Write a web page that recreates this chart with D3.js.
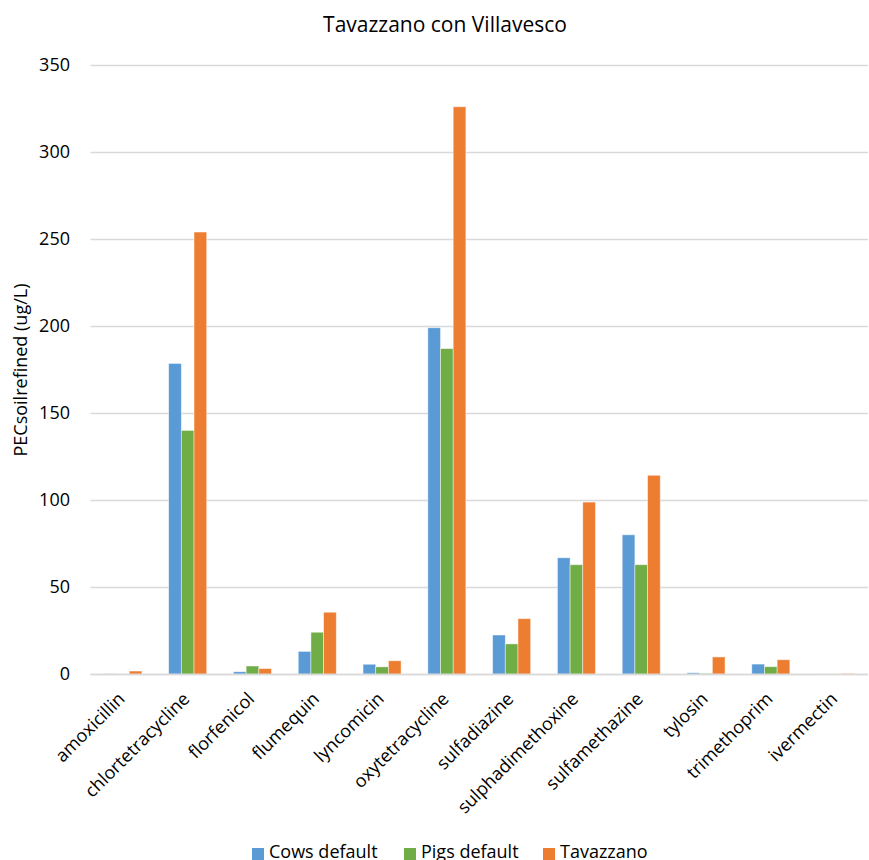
<!DOCTYPE html>
<html>
<head>
<meta charset="utf-8">
<script src="https://cdn.jsdelivr.net/npm/d3@7"></script>
<style>
  html, body { margin: 0; padding: 0; background: #fff; }
  svg { display: block; font-family: "Open Sans", "Noto Sans", sans-serif; }
</style>
</head>
<body>
<svg id="chart" width="869" height="860"></svg>
<script>
// Antibiotic substances on the x axis
const categories = ["amoxicillin", "chlortetracycline", "florfenicol", "flumequin", "lyncomicin",
  "oxytetracycline", "sulfadiazine", "sulphadimethoxine", "sulfamethazine", "tylosin",
  "trimethoprim", "ivermectin"];

// PEC soil refined (ug/L) per scenario
const cowsDefault = [0.1, 178.5, 1.3, 13, 5.6, 199, 22.4, 66.8, 80, 0.7, 5.7, 0.05];
const pigsDefault = [0.05, 140, 4.6, 24, 4.1, 187, 17.3, 62.8, 62.8, 0.4, 4.2, 0.05];
const tavazzano = [1.7, 254, 3.1, 35.5, 7.6, 326, 31.8, 98.8, 114.2, 9.8, 8.2, 0.3];

const seriesNames = ["Cows default", "Pigs default", "Tavazzano"];
const seriesColors = ["#5B9BD5", "#70AD47", "#ED7D31"];
const yTicks = [0, 50, 100, 150, 200, 250, 300, 350];

const series = [cowsDefault, pigsDefault, tavazzano];
const svg = d3.select("#chart");

const margin = { left: 90.5, right: 868, top: 65, bottom: 674 };

const x = d3.scaleBand().domain(categories).range([margin.left, margin.right]).paddingInner(0).paddingOuter(0);
const xs = d3.scaleBand().domain(d3.range(series.length)).range([0, x.bandwidth()])
  .paddingInner(0).paddingOuter(1.055);
const y = d3.scaleLinear().domain([0, 350]).range([margin.bottom, margin.top]);

// Horizontal gridlines
svg.append("g")
  .selectAll("line")
  .data(yTicks)
  .join("line")
  .attr("x1", margin.left).attr("x2", margin.right)
  .attr("y1", d => Math.round(y(d)) + 0.5).attr("y2", d => Math.round(y(d)) + 0.5)
  .attr("stroke", "#D9D9D9").attr("stroke-width", 1.3);

// Y axis labels
const yAxis = d3.axisLeft(y).tickValues(yTicks).tickSize(0).tickPadding(0);
const yG = svg.append("g").attr("transform", `translate(70,0)`).call(yAxis);
yG.select(".domain").remove();
yG.selectAll("text").attr("font-size", 18).attr("fill", "#000").attr("font-family", "Open Sans, sans-serif");

// Bars
const groups = svg.append("g")
  .selectAll("g")
  .data(series)
  .join("g")
  .attr("fill", (d, i) => seriesColors[i]);

groups.each(function (vals, si) {
  d3.select(this).selectAll("rect")
    .data(vals.map((v, ci) => ({ v, c: categories[ci] })))
    .join("rect")
    .attr("x", d => x(d.c) + xs(si))
    .attr("width", xs.bandwidth())
    .attr("y", d => y(d.v))
    .attr("height", d => y(0) - y(d.v))
    .attr("stroke", "#fff").attr("stroke-opacity", 0.55).attr("stroke-width", 0.8);
});

// Baseline axis line
svg.append("line")
  .attr("x1", margin.left).attr("x2", margin.right)
  .attr("y1", Math.round(y(0)) + 0.5).attr("y2", Math.round(y(0)) + 0.5)
  .attr("stroke", "#D9D9D9").attr("stroke-width", 1.3);

// Rotated category labels
svg.append("g")
  .selectAll("text")
  .data(categories)
  .join("text")
  .attr("transform", d => `translate(${x(d) + x.bandwidth() / 2 + 3},${y(0) + 26}) rotate(-45)`)
  .attr("text-anchor", "end")
  .attr("font-size", 18)
  .attr("fill", "#000")
  .text(d => d);

// Title
svg.append("text")
  .attr("x", 445).attr("y", 32)
  .attr("text-anchor", "middle")
  .attr("font-size", 21)
  .attr("fill", "#000")
  .text("Tavazzano con Villavesco");

// Y axis title
svg.append("text")
  .attr("transform", `translate(27,${370}) rotate(-90)`)
  .attr("text-anchor", "middle")
  .attr("font-size", 18)
  .attr("fill", "#000")
  .text("PECsoilrefined (ug/L)");

// Legend
const legendX = [252, 404, 543];
const legend = svg.append("g")
  .selectAll("g")
  .data(seriesNames)
  .join("g")
  .attr("transform", (d, i) => `translate(${legendX[i]},848)`);
legend.append("rect").attr("width", 12).attr("height", 12).attr("fill", (d, i) => seriesColors[i]);
legend.append("text").attr("x", 17).attr("y", 10).attr("font-size", 18).attr("fill", "#000").text(d => d);
</script>
</body>
</html>
